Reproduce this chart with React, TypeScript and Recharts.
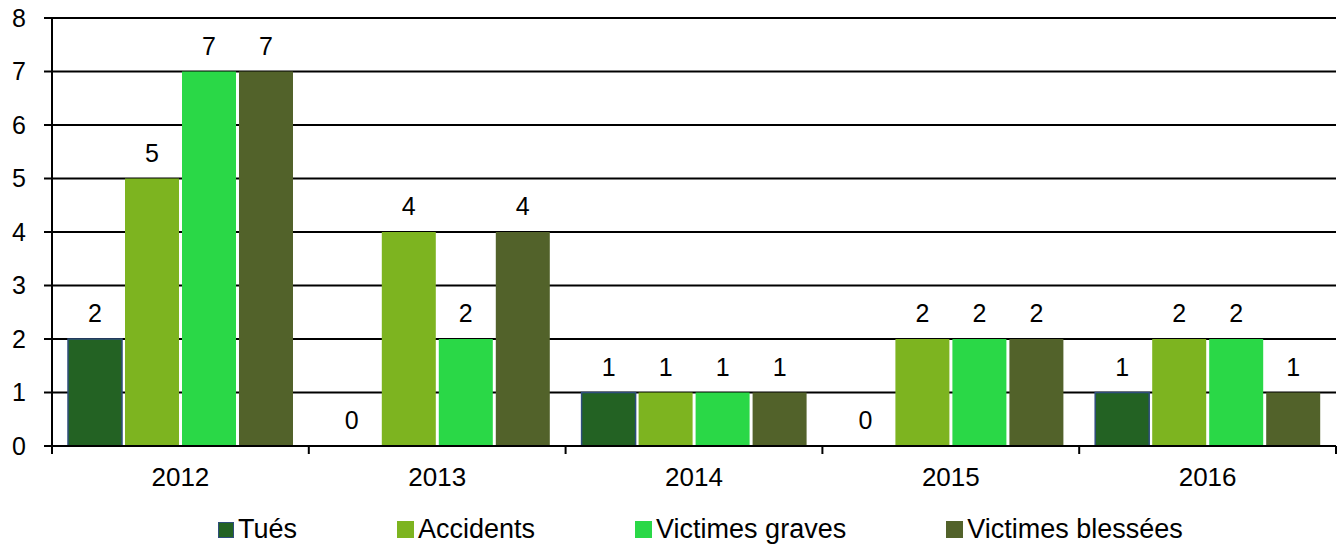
import { BarChart, Bar, XAxis, YAxis, CartesianGrid, LabelList } from 'recharts'

const years = ['2012', '2013', '2014', '2015', '2016']
const tues = [2, 0, 1, 0, 1]
const accidents = [5, 4, 1, 2, 2]
const victimesGraves = [7, 2, 1, 2, 2]
const victimesBlessees = [7, 4, 1, 2, 1]
const yTicks = [0, 1, 2, 3, 4, 5, 6, 7, 8]

const series = [
  { key: 'tues', name: 'Tués', color: '#236223', stroke: '#2E4D7B' },
  { key: 'accidents', name: 'Accidents', color: '#7DB420', stroke: 'none' },
  { key: 'graves', name: 'Victimes graves', color: '#2AD847', stroke: 'none' },
  { key: 'blessees', name: 'Victimes blessées', color: '#52622A', stroke: 'none' },
]

const data = years.map((year, i) => ({
  year,
  tues: tues[i],
  accidents: accidents[i],
  graves: victimesGraves[i],
  blessees: victimesBlessees[i],
}))

const W = 1342
const H = 547
const margin = { top: 18, right: 6, bottom: 61, left: 0 }
const yAxisWidth = 52
const band = (W - margin.right - margin.left - yAxisWidth) / years.length
const font = '"Liberation Sans", Arial, sans-serif'

function XTick(props: any) {
  const { x, y, payload, index } = props
  const half = band / 2
  return (
    <g>
      <line x1={x - half} x2={x - half} y1={y} y2={y + 8} stroke="#000" strokeWidth={2} />
      {index === years.length - 1 && (
        <line x1={x + half} x2={x + half} y1={y} y2={y + 8} stroke="#000" strokeWidth={2} />
      )}
      <text x={x} y={y + 40} textAnchor="middle" fontSize={26} fill="#000" fontFamily={font}>
        {payload.value}
      </text>
    </g>
  )
}

function TopLabel(props: any) {
  const { x, y, width, value } = props
  if (value == null) return null
  return (
    <text x={x + width / 2} y={y - 17} textAnchor="middle" fontSize={25} fill="#000" fontFamily={font}>
      {value}
    </text>
  )
}

export default function App() {
  return (
    <div style={{ position: 'absolute', left: 0, top: 0, width: W, height: H, background: '#fff', fontFamily: font }}>
      <BarChart width={W} height={H} data={data} margin={margin} barCategoryGap={16} barGap={3}>
        <CartesianGrid vertical={false} stroke="#000" strokeWidth={2} />
        <XAxis
          dataKey="year"
          height={40}
          axisLine={{ stroke: '#000', strokeWidth: 2 }}
          tickLine={false}
          tickSize={0}
          tickMargin={0}
          tick={<XTick />}
          interval={0}
        />
        <YAxis
          width={yAxisWidth}
          domain={[0, 8]}
          ticks={yTicks}
          interval={0}
          axisLine={{ stroke: '#000', strokeWidth: 2 }}
          tickLine={{ stroke: '#000', strokeWidth: 2 }}
          tickSize={8}
          tickMargin={18}
          tick={{ fontSize: 25, fill: '#000', fontFamily: font }}
        />
        {series.map((s) => (
          <Bar
            key={s.key}
            dataKey={s.key}
            name={s.name}
            fill={s.color}
            stroke={s.stroke}
            strokeWidth={1.5}
            minPointSize={0.01}
            isAnimationActive={false}
          >
            <LabelList dataKey={s.key} content={<TopLabel />} />
          </Bar>
        ))}
      </BarChart>
      <div
        style={{
          position: 'absolute',
          left: 218,
          top: 514,
          display: 'flex',
          alignItems: 'center',
          gap: 100,
          fontSize: 27,
          color: '#000',
          whiteSpace: 'nowrap',
        }}
      >
        {series.map((s) => (
          <div key={s.key} style={{ display: 'flex', alignItems: 'center' }}>
            <span
              style={{
                display: 'inline-block',
                width: s.stroke === 'none' ? 17 : 14,
                height: s.stroke === 'none' ? 17 : 14,
                background: s.color,
                border: s.stroke === 'none' ? 'none' : `1.5px solid ${s.stroke}`,
                marginRight: 4,
              }}
            />
            <span>{s.name}</span>
          </div>
        ))}
      </div>
    </div>
  )
}
